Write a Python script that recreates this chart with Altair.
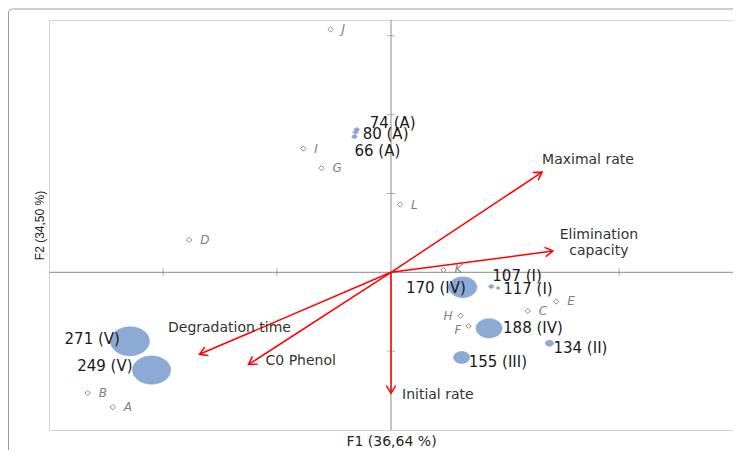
import math
import altair as alt
import pandas as pd

# ---- data ----
obs_names = ["J", "I", "G", "L", "D", "K", "E", "C", "H", "F", "B", "A"]
obs_f1 = [-0.53, -0.77, -0.61, 0.08, -1.77, 0.46, 1.45, 1.20, 0.61, 0.68, -2.66, -2.44]
obs_f2 = [3.08, 1.57, 1.32, 0.86, 0.41, 0.03, -0.37, -0.49, -0.55, -0.68, -1.53, -1.71]

bub_labels = ["74 (A)", "80 (A)", "66 (A)", "271 (V)", "249 (V)", "170 (IV)",
              "107 (I)", "117 (I)", "188 (IV)", "134 (II)", "155 (III)"]
bub_f1 = [-0.30, -0.31, -0.32, -2.29, -2.10, 0.63, 0.88, 0.94, 0.86, 1.39, 0.62]
bub_f2 = [1.81, 1.78, 1.72, -0.875, -1.24, -0.19, -0.18, -0.20, -0.71, -0.90, -1.08]
bub_size = [1.6, 1.6, 1.6, 100, 95, 51.5, 1.6, 0.8, 44.4, 4.2, 16.8]

var_names = ["Maximal rate", "Elimination\ncapacity", "Degradation time", "C0 Phenol", "Initial rate"]
var_f1 = [1.325, 1.42, -1.68, -1.25, 0.0]
var_f2 = [1.27, 0.27, -1.04, -1.17, -1.535]

x_ticks = [-2, -1, 1, 2]
y_ticks = [-1, 1, 2, 3]

# ---- layout / style ----
W, H = 684, 410
XDOM, YDOM = [-3, 3], [-2, 3.2]
px_x = W / (XDOM[1] - XDOM[0])
px_y = H / (YDOM[1] - YDOM[0])

obs_offsets = {"H": (-8, 0, "right"), "F": (-7, 4, "right"), "K": (11, -1, "left")}
bub_offsets = {
    "74 (A)": (13, -7, "left"), "80 (A)": (7, 2, "left"), "66 (A)": (0, 14, "left"),
    "271 (V)": (-10, -2, "right"), "249 (V)": (-19, -4, "right"), "170 (IV)": (3, 1, "right"),
    "107 (I)": (1, -11, "left"), "117 (I)": (5, 1, "left"), "188 (IV)": (14, 0, "left"),
    "134 (II)": (4, 5, "left"), "155 (III)": (7, 5, "left"),
}
var_offsets = {
    "Maximal rate": (0, -12, "left"), "Elimination\ncapacity": (46, -16, "center"),
    "Degradation time": (30, -26, "center"), "C0 Phenol": (17, -4, "left"),
    "Initial rate": (11, 2, "left"),
}

obs = pd.DataFrame({"x": obs_f1, "y": obs_f2, "name": obs_names})
obs["dx"] = [obs_offsets.get(n, (11, 0, "left"))[0] for n in obs_names]
obs["dy"] = [obs_offsets.get(n, (11, 0, "left"))[1] for n in obs_names]
obs["align"] = [obs_offsets.get(n, (11, 0, "left"))[2] for n in obs_names]

bub = pd.DataFrame({"x": bub_f1, "y": bub_f2, "label": bub_labels, "s": bub_size})
bub["dx"] = [bub_offsets[n][0] for n in bub_labels]
bub["dy"] = [bub_offsets[n][1] for n in bub_labels]
bub["align"] = [bub_offsets[n][2] for n in bub_labels]

var = pd.DataFrame({"x": var_f1, "y": var_f2, "name": var_names})
var["x0"] = 0.0
var["y0"] = 0.0
var["ang"] = [math.degrees(math.atan2(-b * px_y, a * px_x)) % 360 for a, b in zip(var_f1, var_f2)]
var["dx"] = [var_offsets[n][0] for n in var_names]
var["dy"] = [var_offsets[n][1] for n in var_names]
var["align"] = [var_offsets[n][2] for n in var_names]

xt = pd.DataFrame({"x": x_ticks, "y": [0] * len(x_ticks)})
yt = pd.DataFrame({"x": [0] * len(y_ticks), "y": y_ticks})
origin = pd.DataFrame({"x": [0.0], "y": [0.0]})

xs = alt.Scale(domain=XDOM, nice=False, zero=False)
ys = alt.Scale(domain=YDOM, nice=False, zero=False)
xaxis = alt.Axis(title="F1 (36,64 %)", labels=False, ticks=False, domain=False, grid=False,
                 titleFont="DejaVu Sans", titleFontSize=14, titleFontWeight="normal",
                 titleColor="#262626", titlePadding=4)
yaxis = alt.Axis(title="F2 (34,50 %)", labels=False, ticks=False, domain=False, grid=False,
                 titleFont="Liberation Sans", titleFontSize=12, titleFontWeight="normal",
                 titleColor="#262626", titlePadding=3)
X = alt.X("x:Q", scale=xs, axis=xaxis)
Y = alt.Y("y:Q", scale=ys, axis=yaxis)

AXIS_GRAY = "#8a8a8a"
RED = "#ff0000"

frame = alt.Chart(origin).mark_rect(filled=False, stroke="#9a9a9a", strokeWidth=1,
                                    cornerRadius=4).encode(
    x=alt.value(-40.5), x2=alt.value(W + 60), y=alt.value(-11), y2=alt.value(H + 60))

vline = alt.Chart(origin).mark_rule(color=AXIS_GRAY, strokeWidth=1).encode(x=X)
hline = alt.Chart(origin).mark_rule(color=AXIS_GRAY, strokeWidth=1).encode(y=Y)
xtick = alt.Chart(xt).mark_tick(orient="vertical", size=8, thickness=1, color=AXIS_GRAY).encode(x=X, y=Y)
ytick = alt.Chart(yt).mark_tick(orient="horizontal", size=8, thickness=1, color=AXIS_GRAY).encode(x=X, y=Y)

arrows = alt.Chart(var).mark_rule(color=RED, strokeWidth=1.5).encode(
    x=alt.X("x0:Q", scale=xs, axis=xaxis), y=alt.Y("y0:Q", scale=ys, axis=yaxis),
    x2="x:Q", y2="y:Q")
heads = alt.Chart(var).mark_point(shape="M -1 -0.6 L 0 0 L -1 0.6", filled=False, color=RED,
                                  strokeWidth=1.5, size=240, opacity=1).encode(
    x=X, y=Y, angle=alt.Angle("ang:Q", scale=None))

diam = alt.Chart(obs).mark_point(shape="diamond", filled=False, color="#8c8c8c",
                                 strokeWidth=1, size=28, opacity=1).encode(x=X, y=Y)
diam_txt = alt.Chart(obs).mark_text(font="DejaVu Sans", fontStyle="italic", fontSize=12,
                                    color="#7f7f7f", baseline="middle",
                                    dx=alt.ExprRef(expr="datum.dx"),
                                    dy=alt.ExprRef(expr="datum.dy"),
                                    align=alt.ExprRef(expr="datum.align")).encode(
    x=X, y=Y, text="name:N")

bubbles = alt.Chart(bub).mark_point(
    shape="M -1 0 A 1 0.74 0 1 1 1 0 A 1 0.74 0 1 1 -1 0 Z",
    filled=True, color="#8daad5", stroke="#7d9ccb", strokeWidth=0.6, opacity=1).encode(
    x=X, y=Y, size=alt.Size("s:Q", scale=alt.Scale(domain=[0, 100], range=[0, 1521]), legend=None))
bub_txt = alt.Chart(bub).mark_text(font="DejaVu Sans", fontSize=15, color="#1a1a1a",
                                   baseline="middle",
                                   dx=alt.ExprRef(expr="datum.dx"),
                                   dy=alt.ExprRef(expr="datum.dy"),
                                   align=alt.ExprRef(expr="datum.align")).encode(
    x=X, y=Y, text="label:N")

var_txt = alt.Chart(var).mark_text(font="DejaVu Sans", fontSize=14, color="#333333",
                                   baseline="middle", lineBreak="\n", lineHeight=16,
                                   dx=alt.ExprRef(expr="datum.dx"),
                                   dy=alt.ExprRef(expr="datum.dy"),
                                   align=alt.ExprRef(expr="datum.align")).encode(
    x=X, y=Y, text="name:N")

chart = alt.layer(frame, vline, hline, xtick, ytick, arrows, heads, diam, bubbles,
                  diam_txt, var_txt, bub_txt).properties(
    width=W, height=H,
    autosize=alt.AutoSizeParams(type="none"),
    padding={"left": 41, "top": 12, "right": 0, "bottom": 20},
).configure_view(stroke="#d4d4d4", strokeWidth=1)

chart.save("out.html", embed_options={"renderer": "svg", "actions": False})
